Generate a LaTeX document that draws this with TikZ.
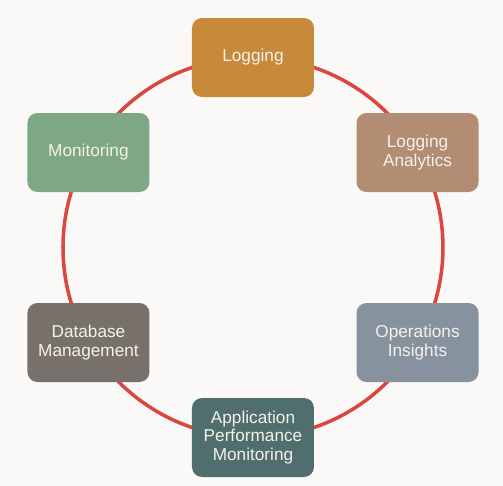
\documentclass[tikz,border=0pt]{standalone}
\usepackage{fontspec}
\setmainfont{Liberation Sans}
\usetikzlibrary{positioning, backgrounds}
\definecolor{paper}{HTML}{FAF9F8}
\definecolor{ringred}{HTML}{D9473F}
\definecolor{logcol}{HTML}{C68A3A}
\definecolor{anacol}{HTML}{B28C73}
\definecolor{opscol}{HTML}{86939E}
\definecolor{apmcol}{HTML}{4F6E6D}
\definecolor{dbcol}{HTML}{77706B}
\definecolor{moncol}{HTML}{7DA883}
\definecolor{labelcol}{HTML}{F5F1EC}

\begin{document}
\begin{tikzpicture}[
    tool/.style={rounded corners=0.2cm, minimum width=2.44cm,
        minimum height=1.58cm, align=center, text=labelcol, inner sep=2pt,
        font=\fontsize{9.8}{10.6}\selectfont}]
\fill[paper] (-5.06,-4.77) rectangle (5.0,4.95);
\useasboundingbox (-5.06,-4.77) rectangle (5.0,4.95);
% ring behind the boxes
\draw[ringred, line width=2pt] (0,0) circle (3.8cm);
\foreach \angle/\name/\col/\label in {
    90/log/logcol/Logging,
    30/ana/anacol/{Logging\\Analytics},
    330/ops/opscol/{Operations\\Insights},
    270/apm/apmcol/{Application\\Performance\\Monitoring},
    210/db/dbcol/{Database\\Management},
    150/mon/moncol/Monitoring}{
    \node[tool, fill=\col] (\name) at (\angle:3.8cm) {\label};
}
\end{tikzpicture}
\end{document}
